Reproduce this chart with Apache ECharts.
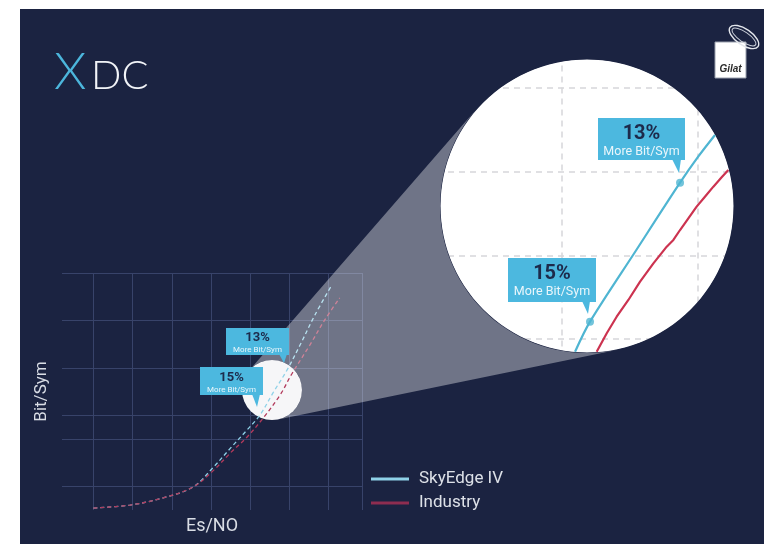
<!DOCTYPE html>
<html>
<head>
<meta charset="utf-8">
<script src="https://cdn.jsdelivr.net/npm/echarts@6/dist/echarts.min.js"></script>
<style>html,body{margin:0;padding:0;background:#fff}#c{width:764px;height:544px}</style>
</head>
<body>
<div id="c"></div>
<script>
// ---------- data ----------
const seriesNames = ['SkyEdge IV', 'Industry'];
// main chart (Es/N0 vs Bit/Sym, arbitrary units)
const skyX = [0, 0.94, 1.78, 2.54, 3.03, 3.49, 3.92, 4.25, 4.58, 4.94, 5.27, 5.65, 6.08];
const skyY = [0.08, 0.21, 0.51, 0.97, 1.75, 2.60, 3.38, 4.01, 4.94, 5.91, 6.96, 8.23, 9.49];
const indX = [0, 0.94, 1.78, 2.54, 3.03, 3.49, 3.92, 4.33, 4.76, 5.06, 5.52, 5.90, 6.28];
const indY = [0.08, 0.21, 0.51, 0.97, 1.62, 2.40, 3.08, 3.88, 4.85, 5.74, 6.96, 8.02, 8.95];
const mainGridX = [0, 1, 2, 3, 4, 5, 6, 6.85];
const mainGridY = [1, 3, 4, 6, 8, 10];
// magnified view
const zSkyX = [1.096, 1.206, 1.537, 1.868, 2.000, 2.125];
const zSkyY = [0.848, 1.207, 2.039, 2.867, 3.175, 3.437];
const zIndX = [1.255, 1.329, 1.402, 1.488, 1.574, 1.672, 1.770, 1.819, 1.868, 1.929, 1.990, 2.051, 2.113, 2.174, 2.223];
const zIndY = [0.848, 1.068, 1.266, 1.466, 1.685, 1.904, 2.103, 2.183, 2.302, 2.442, 2.581, 2.700, 2.820, 2.932, 3.019];
const zMarkX = [1.206, 1.868];
const zMarkY = [1.207, 2.867];
const calloutPct = ['13%', '15%'];
const calloutSub = 'More Bit/Sym';

// ---------- styling ----------
const NAVY = '#1b2341';
const BLUE = '#8fd2e8', RED = '#b23a5c';
const ZBLUE = '#4fb5d2', ZRED = '#cc3350';
const BOX = '#4cb8df', DARK = '#1d2a4b';
const SC = {x: 272, y: 390, r: 30};
const BC = {x: 587, y: 206, r: 147};

const pairs = (xs, ys) => xs.map((x, i) => [x, ys[i]]);

// cone between circles (external tangents)
function conePoints() {
  const dx = BC.x - SC.x, dy = BC.y - SC.y, D = Math.hypot(dx, dy);
  const th = Math.atan2(dy, dx), al = Math.acos((SC.r - BC.r) / D);
  const p1 = th + al, p2 = th - al, N = 48, pts = [];
  const b0 = p2, b1 = p1 - 2 * Math.PI;
  for (let i = 0; i <= N; i++) { const a = b0 + (b1 - b0) * i / N; pts.push([BC.x + BC.r * Math.cos(a), BC.y + BC.r * Math.sin(a)]); }
  for (let i = 0; i <= N; i++) { const a = p1 + (p2 - p1) * i / N; pts.push([SC.x + SC.r * Math.cos(a), SC.y + SC.r * Math.sin(a)]); }
  return pts;
}
function maskPoints(x0, y0, x1, y1) {
  const pts = [[x1, BC.y], [x1, y1], [x0, y1], [x0, y0], [x1, y0], [x1, BC.y]];
  const r = BC.r - 0.5, N = 120;
  for (let i = 0; i <= N; i++) { const a = -2 * Math.PI * i / N; pts.push([BC.x + r * Math.cos(a), BC.y + r * Math.sin(a)]); }
  return pts;
}
function callout(x, y, w, h, ptr, pct, pctSize, subSize, pctY, subY) {
  return [
    {type: 'rect', z: 10, shape: {x, y, width: w, height: h}, style: {fill: BOX}},
    {type: 'polygon', z: 10, shape: {points: ptr}, style: {fill: BOX}},
    {type: 'text', z: 11, style: {text: pct, x: x + w / 2, y: pctY, align: 'center', verticalAlign: 'middle',
      fill: DARK, fontSize: pctSize, fontWeight: 'bold', fontFamily: 'Roboto'}},
    {type: 'text', z: 11, style: {text: calloutSub, x: x + w / 2, y: subY, align: 'center', verticalAlign: 'middle',
      fill: '#eaf6fb', fontSize: subSize, fontFamily: 'Roboto'}}
  ];
}

const chart = echarts.init(document.getElementById('c'), null, {renderer: 'canvas'});
const hidden = {axisLine: {show: false}, axisTick: {show: false}, axisLabel: {show: false}};

const graphic = [
  {type: 'rect', z: 100, shape: {x: 0, y: 0, width: 20, height: 544}, style: {fill: '#ffffff'}},
  {type: 'rect', z: 100, shape: {x: 0, y: 0, width: 764, height: 9}, style: {fill: '#ffffff'}},
  {type: 'circle', z: 2, shape: {cx: SC.x, cy: SC.y, r: SC.r}, style: {fill: '#f6f6f8'}},
  {type: 'circle', z: 5, shape: {cx: BC.x, cy: BC.y, r: BC.r}, style: {fill: '#ffffff'}},
  {type: 'polygon', z: 7, shape: {points: maskPoints(422, 50, 742, 428)}, style: {fill: NAVY}},
  {type: 'polygon', z: 8, shape: {points: conePoints()}, style: {fill: 'rgba(255,255,255,0.37)'}},
  ...callout(598, 118, 87, 42, [[672, 159], [681, 159], [679, 173]], calloutPct[0], 20, 12.5, 134, 152),
  ...callout(508, 258, 88, 44, [[582, 301], [590, 301], [588, 314]], calloutPct[1], 20, 12.5, 274, 292),
  ...callout(226, 328, 63, 27, [[279, 354], [287, 354], [284, 363]], calloutPct[0], 13, 8, 338, 350),
  ...callout(200, 367, 63, 28, [[252, 394], [260, 394], [257, 407]], calloutPct[1], 13, 8, 378, 390),
  // XDC logo
  {type: 'text', z: 11, style: {text: 'X', x: 54, y: 72, align: 'left', verticalAlign: 'middle', fill: '#4cb6dc',
    fontSize: 52, fontWeight: 300, fontFamily: 'Lato'}},
  {type: 'text', z: 11, style: {text: 'DC', x: 91, y: 76, align: 'left', verticalAlign: 'middle', fill: '#f2f4f8',
    fontSize: 40, fontWeight: 300, fontFamily: 'Lato'}},
  // Gilat logo
  {type: 'rect', z: 11, shape: {x: 715, y: 42, width: 31, height: 36}, style: {fill: '#ffffff', stroke: '#9aa0ad', lineWidth: 1}},
  {type: 'text', z: 12, style: {text: 'Gilat', x: 730.5, y: 69, align: 'center', verticalAlign: 'middle', fill: '#2b2b2b',
    fontSize: 10, fontWeight: 'bold', fontStyle: 'italic', fontFamily: 'Liberation Sans'}},
  {type: 'ellipse', z: 12, x: 744, y: 37, rotation: -0.6, shape: {cx: 0, cy: 0, rx: 17, ry: 8},
    style: {fill: 'none', stroke: '#e3e6ec', lineWidth: 1.4}},
  {type: 'ellipse', z: 12, x: 744, y: 37, rotation: -0.6, shape: {cx: 0, cy: 0, rx: 14, ry: 5},
    style: {fill: 'none', stroke: '#c9ced8', lineWidth: 1}}
];

chart.setOption({
  backgroundColor: NAVY,
  animation: false,
  legend: {
    orient: 'vertical', left: 366, top: 465, itemWidth: 38, itemHeight: 3, itemGap: 6, icon: 'rect',
    textStyle: {color: '#dde1e8', fontSize: 17, fontFamily: 'Roboto', lineHeight: 18, padding: [0, 0, 0, 5]},
    data: [{name: seriesNames[0], itemStyle: {color: BLUE}}, {name: seriesNames[1], itemStyle: {color: '#8e2d50'}}]
  },
  grid: [
    {left: 62, top: 273, width: 300, height: 237},
    {left: 426, top: 54.4, width: 312.8, height: 368.3}
  ],
  xAxis: [
    Object.assign({type: 'value', gridIndex: 0, min: -0.8, max: 6.85, splitLine: {show: false},
      name: 'Es/NO', nameLocation: 'middle', nameGap: 7,
      nameTextStyle: {color: '#d9dde5', fontSize: 18, fontFamily: 'Roboto'}}, hidden),
    Object.assign({type: 'value', gridIndex: 1, min: 0, max: 2.3, interval: 1, z: 6,
      splitLine: {show: true, lineStyle: {color: '#d6d6da', width: 1.5, type: [6, 5]}}}, hidden)
  ],
  yAxis: [
    Object.assign({type: 'value', gridIndex: 0, min: 0, max: 10, splitLine: {show: false},
      name: 'Bit/Sym', nameLocation: 'middle', nameGap: 12,
      nameTextStyle: {color: '#d9dde5', fontSize: 17, fontFamily: 'Roboto'}}, hidden),
    Object.assign({type: 'value', gridIndex: 1, min: 0, max: 4.4, interval: 1, z: 6,
      splitLine: {show: true, lineStyle: {color: '#d6d6da', width: 1.5, type: [6, 5]}}}, hidden)
  ],
  series: [
    {type: 'line', name: 'grid', xAxisIndex: 0, yAxisIndex: 0, z: 1, data: [], silent: true,
      markLine: {silent: true, z: 1, symbol: ['none', 'none'], label: {show: false},
        lineStyle: {color: '#38436a', width: 1, type: 'solid'},
        data: mainGridX.map(v => ({xAxis: v})).concat(mainGridY.map(v => ({yAxis: v})))}},
    {type: 'line', name: seriesNames[0], xAxisIndex: 0, yAxisIndex: 0, z: 3, data: pairs(skyX, skyY),
      symbol: 'none', smooth: 0.35, lineStyle: {color: BLUE, width: 1.3, type: [4, 3]}, itemStyle: {color: BLUE}},
    {type: 'line', name: seriesNames[1], xAxisIndex: 0, yAxisIndex: 0, z: 3, data: pairs(indX, indY),
      symbol: 'none', smooth: 0.35, lineStyle: {color: RED, width: 1.3, type: [4, 3]}, itemStyle: {color: RED}},
    {type: 'line', name: seriesNames[1] + ' (zoom)', xAxisIndex: 1, yAxisIndex: 1, z: 9, data: pairs(zIndX, zIndY),
      symbol: 'none', lineStyle: {color: ZRED, width: 2.2}},
    {type: 'line', name: seriesNames[0] + ' (zoom)', xAxisIndex: 1, yAxisIndex: 1, z: 9, data: pairs(zSkyX, zSkyY),
      symbol: 'none', smooth: 0.3, lineStyle: {color: ZBLUE, width: 2.2}},
    {type: 'scatter', name: seriesNames[0] + ' (points)', xAxisIndex: 1, yAxisIndex: 1, z: 9, data: pairs(zMarkX, zMarkY),
      symbol: 'circle', symbolSize: 8, itemStyle: {color: ZBLUE}}
  ],
  graphic: graphic
});
</script>
</body>
</html>
